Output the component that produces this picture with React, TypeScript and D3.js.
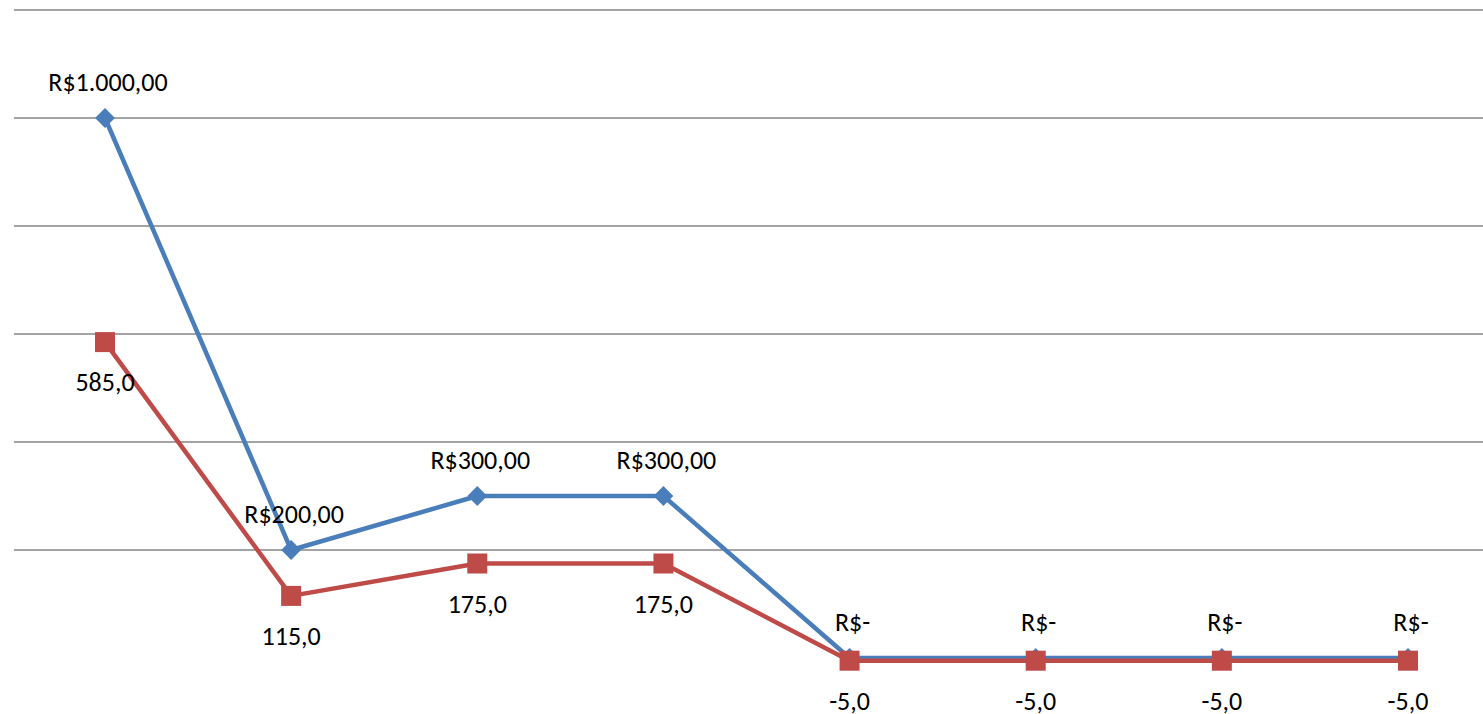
import React from "react";
import * as d3 from "d3";

const categories = ["1", "2", "3", "4", "5", "6", "7", "8"];
const seriesA = [1000, 200, 300, 300, 0, 0, 0, 0];
const seriesB = [585, 115, 175, 175, -5, -5, -5, -5];
const gridValues = [200, 400, 600, 800, 1000, 1200];

const W = 1483;
const H = 714;

const fmtA = (v: number) => {
  if (v === 0) return "R$-";
  const s = v.toFixed(2).replace(".", ",");
  const [int, dec] = s.split(",");
  const withDots = int.replace(/\B(?=(\d{3})+(?!\d))/g, ".");
  return `R$${withDots},${dec}`;
};
const fmtB = (v: number) => v.toFixed(1).replace(".", ",");

export default function App() {
  const x = d3.scalePoint<string>().domain(categories).range([105, 1408]);
  const y = d3.scaleLinear().domain([0, 1200]).range([658, 10]);

  const lineA = d3
    .line<number>()
    .x((_, i) => x(categories[i])!)
    .y((d) => y(d));

  const blue = "#4A7EBB";
  const red = "#BE4B48";
  const font = "Carlito, Calibri, 'Open Sans', 'Liberation Sans', sans-serif";

  return (
    <svg
      width={W}
      height={H}
      style={{ position: "absolute", left: 0, top: 0, display: "block", background: "#fff" }}
    >
      {gridValues.map((g) => (
        <line key={g} x1={14} x2={W} y1={y(g)} y2={y(g)} stroke="#868686" strokeWidth={1.5} />
      ))}
      <path d={lineA(seriesA) || ""} fill="none" stroke={blue} strokeWidth={4.5} strokeLinejoin="round" />
      {seriesA.map((v, i) => {
        const cx = x(categories[i])!;
        const cy = y(v);
        return (
          <rect
            key={"a" + i}
            x={cx - 7}
            y={cy - 7}
            width={14}
            height={14}
            fill={blue}
            transform={`rotate(45 ${cx} ${cy})`}
          />
        );
      })}
      <path d={lineA(seriesB) || ""} fill="none" stroke={red} strokeWidth={4.5} strokeLinejoin="round" />
      {seriesB.map((v, i) => {
        const cx = x(categories[i])!;
        const cy = y(v);
        return <rect key={"b" + i} x={cx - 10} y={cy - 10} width={20} height={20} fill={red} />;
      })}
      {seriesA.map((v, i) => (
        <text
          key={"la" + i}
          x={x(categories[i])! + 3}
          y={y(v) - 27}
          textAnchor="middle"
          fontFamily={font}
          fontSize={26}
          fill="#000"
        >
          {fmtA(v)}
        </text>
      ))}
      {seriesB.map((v, i) => (
        <text
          key={"lb" + i}
          x={x(categories[i])!}
          y={y(v) + 49}
          textAnchor="middle"
          fontFamily={font}
          fontSize={26}
          fill="#000"
        >
          {fmtB(v)}
        </text>
      ))}
    </svg>
  );
}
